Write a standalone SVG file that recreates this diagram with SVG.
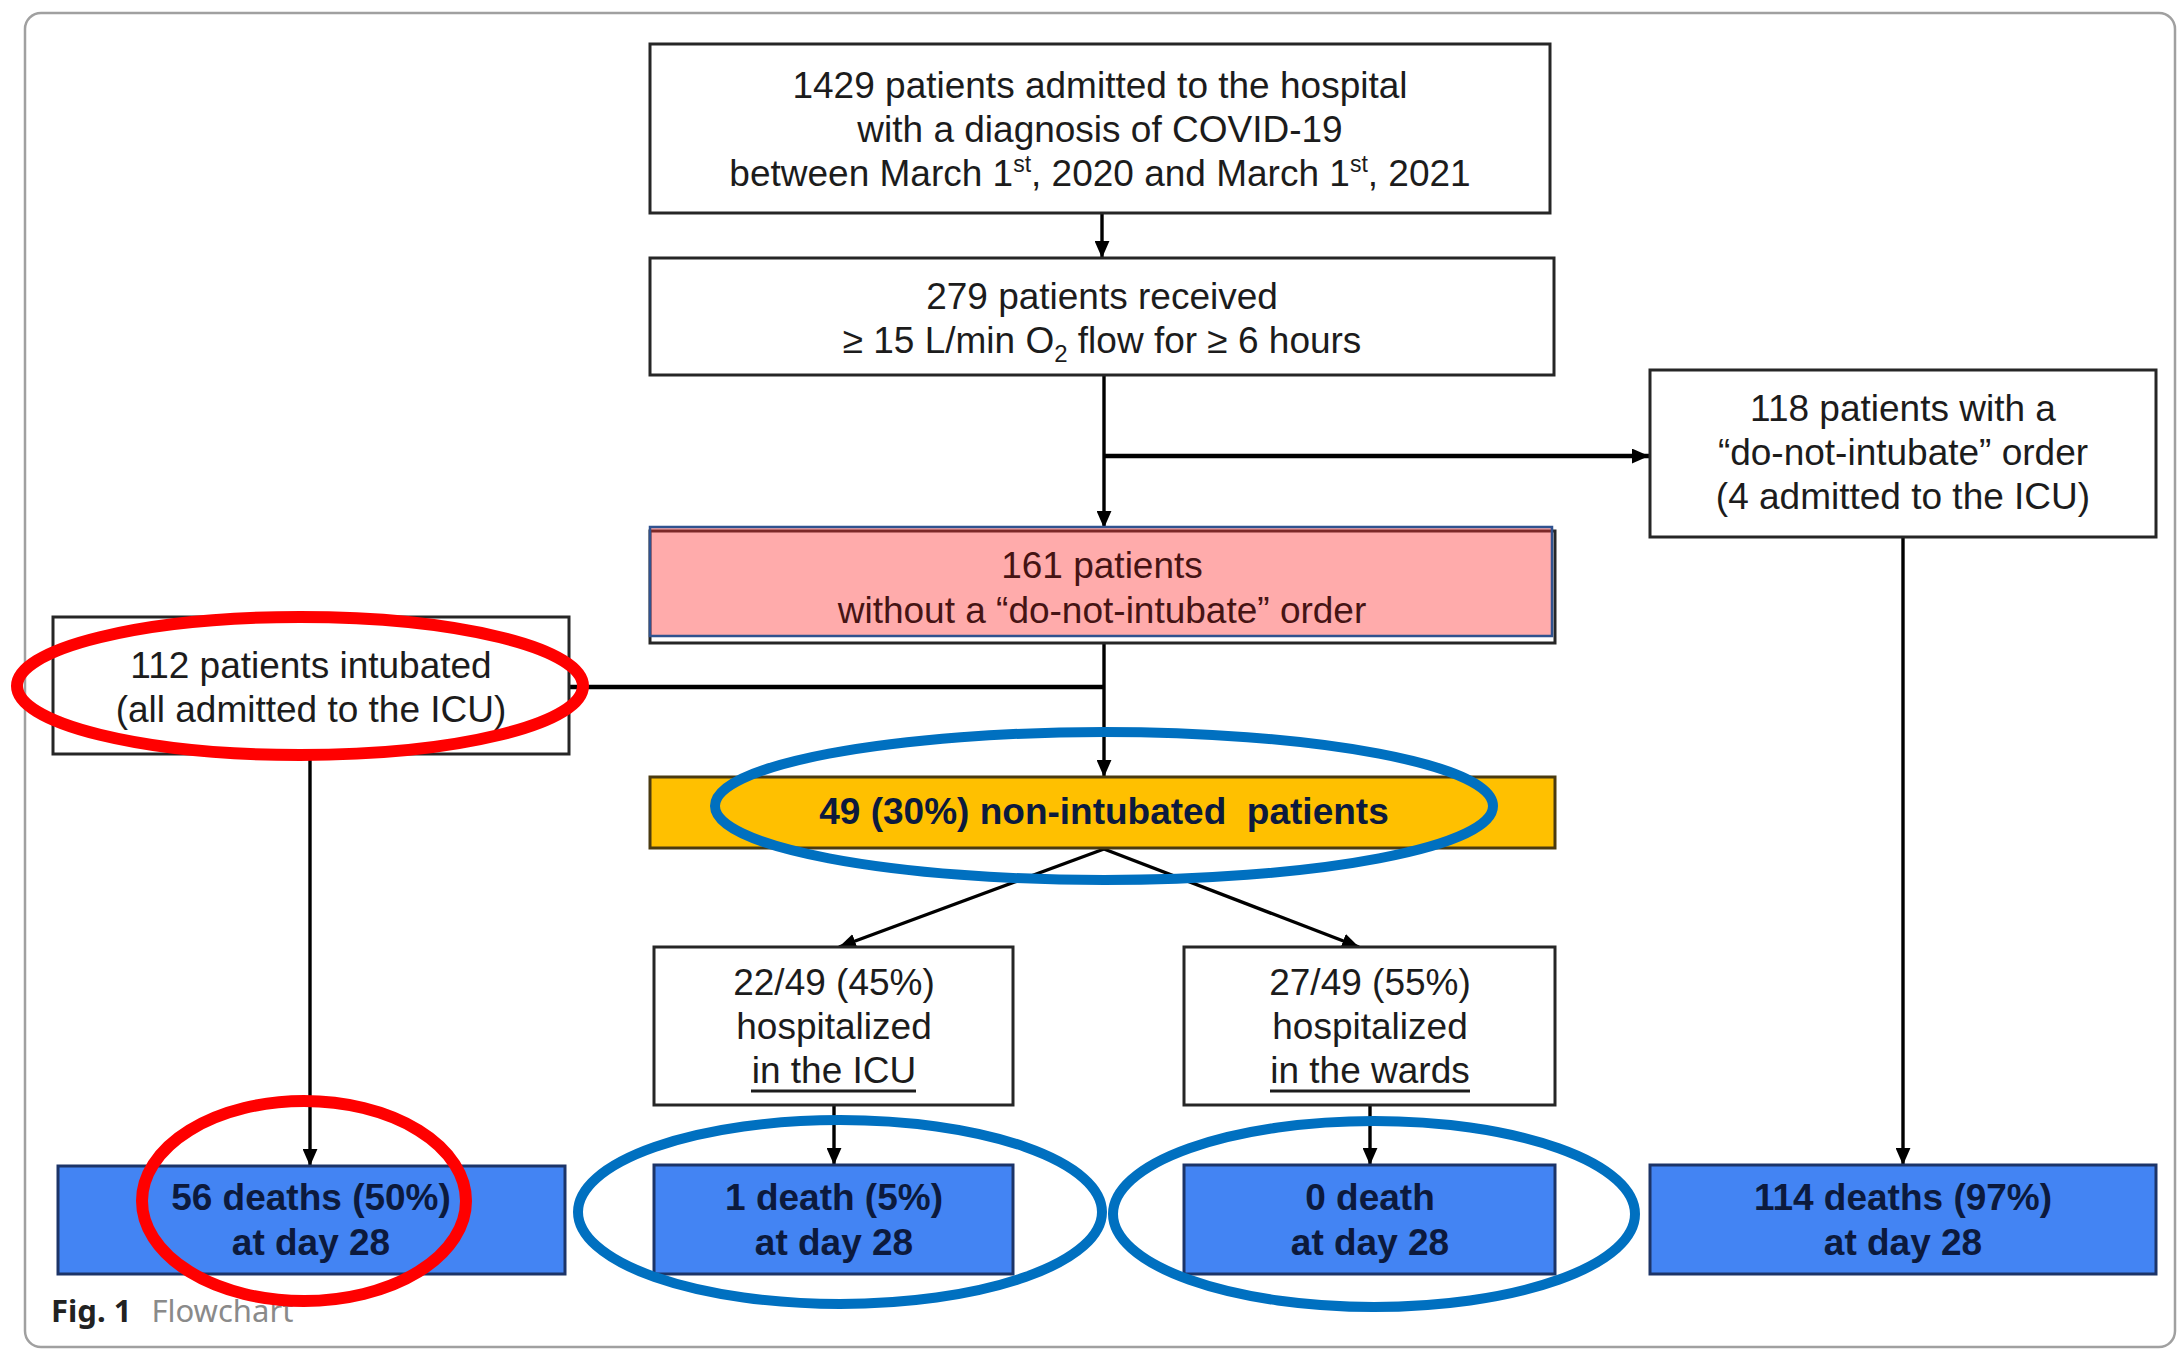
<svg xmlns="http://www.w3.org/2000/svg" width="2179" height="1350" viewBox="0 0 2179 1350">
  <defs>
    <style>
      .frame { fill: #fff; stroke: #a0a0a0; stroke-width: 2.5; }
      .box { fill: #fff; stroke: #262626; stroke-width: 3; }
      .death { fill: #4384f3; stroke: #1c3468; stroke-width: 3; }
      .gold { fill: #ffc000; stroke: #4a3a10; stroke-width: 3; }
      .t { font-family: "Liberation Sans", Arial, sans-serif; font-size: 37px; fill: #1c1c1c; text-anchor: middle; }
      .tb { font-weight: bold; fill: #0c1a3d; }
      .tp { fill: #461414; }
      .wire { stroke: #000; stroke-width: 3.4; fill: none; }
      .wire-h { stroke: #000; stroke-width: 4.5; fill: none; }
      .ul { stroke: #1c1c1c; stroke-width: 3; }
      .ring-red { fill: none; stroke: #ff0000; stroke-width: 12; }
      .ring-blue { fill: none; stroke: #0070c0; stroke-width: 10; }
      .cap { font-family: "Noto Sans", "Open Sans", sans-serif; font-size: 31px; }
    </style>
    <marker id="arrow" viewBox="0 0 16 14" refX="16" refY="7" markerWidth="17" markerHeight="15" markerUnits="userSpaceOnUse" orient="auto">
      <path d="M0,0 L16,7 L0,14 z" fill="#000"/>
    </marker>
  </defs>

  <!-- figure panel -->
  <rect class="frame" x="25" y="13" width="2150" height="1334" rx="16"/>

  <!-- connectors -->
  <g id="connectors">
    <line class="wire" x1="1102" y1="213" x2="1102" y2="258" marker-end="url(#arrow)"/>
    <line class="wire" x1="1104" y1="375" x2="1104" y2="528" marker-end="url(#arrow)"/>
    <line class="wire-h" x1="1104" y1="456" x2="1649" y2="456" marker-end="url(#arrow)"/>
    <line class="wire" x1="1104" y1="643" x2="1104" y2="777" marker-end="url(#arrow)"/>
    <line class="wire-h" x1="1104" y1="687" x2="569" y2="687"/>
    <line class="wire" x1="310" y1="754" x2="310" y2="1166" marker-end="url(#arrow)"/>
    <line class="wire" x1="1104" y1="849" x2="839" y2="947" marker-end="url(#arrow)"/>
    <line class="wire" x1="1104" y1="849" x2="1359" y2="947" marker-end="url(#arrow)"/>
    <line class="wire" x1="834" y1="1105" x2="834" y2="1165" marker-end="url(#arrow)"/>
    <line class="wire" x1="1370" y1="1105" x2="1370" y2="1165" marker-end="url(#arrow)"/>
    <line class="wire" x1="1903" y1="537" x2="1903" y2="1165" marker-end="url(#arrow)"/>
  </g>

  <!-- nodes -->
  <g id="admitted">
    <rect class="box" x="650" y="44" width="900" height="169"/>
    <text class="t" x="1100" y="98">1429 patients admitted to the hospital</text>
    <text class="t" x="1100" y="142">with a diagnosis of COVID-19</text>
    <text class="t" x="1100" y="186">between March 1<tspan font-size="23" dy="-14">st</tspan><tspan dy="14">, 2020 and March 1</tspan><tspan font-size="23" dy="-14">st</tspan><tspan dy="14">, 2021</tspan></text>
  </g>

  <g id="high-flow">
    <rect class="box" x="650" y="258" width="904" height="117"/>
    <text class="t" x="1102" y="309">279 patients received</text>
    <text class="t" x="1102" y="353">≥ 15 L/min O<tspan font-size="24" dy="9">2</tspan><tspan dy="-9"> flow for ≥ 6 hours</tspan></text>
  </g>

  <g id="no-dni">
    <rect class="box" x="650" y="531" width="905" height="112"/>
    <rect x="650" y="527" width="902" height="109" fill="#ff2d2d" fill-opacity="0.4" stroke="#2f528f" stroke-width="2.5"/>
    <text class="t tp" x="1102" y="578">161 patients</text>
    <text class="t tp" x="1102" y="623">without a “do-not-intubate” order</text>
  </g>

  <g id="dni">
    <rect class="box" x="1650" y="370" width="506" height="167"/>
    <text class="t" x="1903" y="421">118 patients with a</text>
    <text class="t" x="1903" y="465">“do-not-intubate” order</text>
    <text class="t" x="1903" y="509">(4 admitted to the ICU)</text>
  </g>

  <g id="intubated">
    <rect class="box" x="53" y="617" width="516" height="137"/>
    <text class="t" x="311" y="678">112 patients intubated</text>
    <text class="t" x="311" y="722">(all admitted to the ICU)</text>
  </g>

  <g id="non-intubated">
    <rect class="gold" x="650" y="777" width="905" height="71"/>
    <text class="t tb" x="1104" y="824" xml:space="preserve" style="white-space:pre">49 (30%) non-intubated  patients</text>
  </g>

  <g id="icu">
    <rect class="box" x="654" y="947" width="359" height="158"/>
    <text class="t" x="834" y="995">22/49 (45%)</text>
    <text class="t" x="834" y="1039">hospitalized</text>
    <text class="t" x="834" y="1083">in the ICU</text>
    <line class="ul" x1="751" y1="1091" x2="916" y2="1091"/>
  </g>

  <g id="wards">
    <rect class="box" x="1184" y="947" width="371" height="158"/>
    <text class="t" x="1370" y="995">27/49 (55%)</text>
    <text class="t" x="1370" y="1039">hospitalized</text>
    <text class="t" x="1370" y="1083">in the wards</text>
    <line class="ul" x1="1270" y1="1091" x2="1470" y2="1091"/>
  </g>

  <g id="deaths-intubated">
    <rect class="death" x="58" y="1166" width="507" height="108"/>
    <text class="t tb" x="311" y="1210">56 deaths (50%)</text>
    <text class="t tb" x="311" y="1255">at day 28</text>
  </g>

  <g id="deaths-icu">
    <rect class="death" x="654" y="1165" width="359" height="109"/>
    <text class="t tb" x="834" y="1210">1 death (5%)</text>
    <text class="t tb" x="834" y="1255">at day 28</text>
  </g>

  <g id="deaths-wards">
    <rect class="death" x="1184" y="1165" width="371" height="109"/>
    <text class="t tb" x="1370" y="1210">0 death</text>
    <text class="t tb" x="1370" y="1255">at day 28</text>
  </g>

  <g id="deaths-dni">
    <rect class="death" x="1650" y="1165" width="506" height="109"/>
    <text class="t tb" x="1903" y="1210">114 deaths (97%)</text>
    <text class="t tb" x="1903" y="1255">at day 28</text>
  </g>

  <!-- caption -->
  <text class="cap" x="51" y="1322"><tspan font-weight="bold" fill="#222">Fig. 1</tspan><tspan fill="#8a8a8a" dx="20">Flowchart</tspan></text>

  <!-- highlight rings -->
  <g id="highlights">
    <ellipse class="ring-red" cx="300" cy="686" rx="283" ry="69"/>
    <ellipse class="ring-red" cx="304" cy="1201" rx="162" ry="100"/>
    <ellipse class="ring-blue" cx="1104" cy="806" rx="389" ry="74"/>
    <ellipse class="ring-blue" cx="840" cy="1212" rx="262" ry="92"/>
    <ellipse class="ring-blue" cx="1374" cy="1214" rx="261" ry="93"/>
  </g>
</svg>
